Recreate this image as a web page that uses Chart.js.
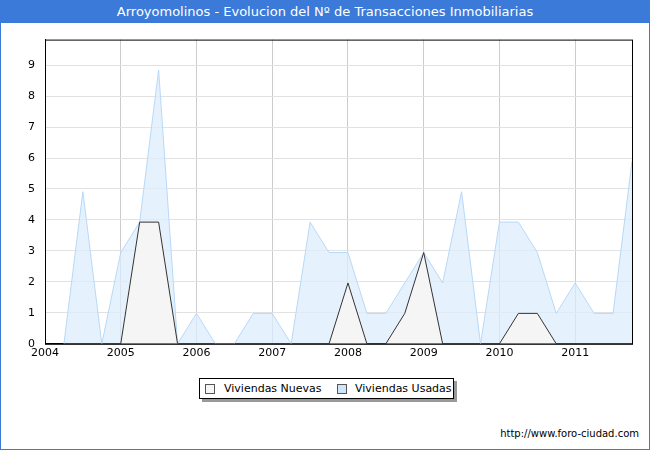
<!DOCTYPE html><html><head><script src="https://cdn.jsdelivr.net/npm/chart.js"></script>
<style>body{margin:0;width:650px;height:450px;background:#fff;font-family:"DejaVu Sans",sans-serif;overflow:hidden}
#wrap{position:absolute;left:0;top:0;width:648px;height:448px;border:1px solid #3b7ad9}
#title{height:22px;background:#3b7ad9;color:#fff;font-size:13px;text-align:center;line-height:22px}
#c{position:absolute;left:0;top:22px}
#url{position:absolute;right:10px;bottom:10px;font-size:10px;color:#000}
#leg{position:absolute;left:198px;top:377px;width:253px;height:19px;border:1px solid #000;box-shadow:3px 3px 0 #999;font-size:11px;background:#fff}
#leg span{position:absolute;top:3px}
#leg i{position:absolute;top:5px;width:8px;height:8px;border:1px solid #555}
</style></head><body><div id="wrap"><div id="title">Arroyomolinos - Evolucion del Nº de Transacciones Inmobiliarias</div>
<canvas id="c" width="648" height="340"></canvas>
<div id="leg"><i style="left:5px;background:#f5f5f5"></i><span style="left:24px">Viviendas Nuevas</span><i style="left:137px;background:#cfe5fb"></i><span style="left:155px">Viviendas Usadas</span></div>
<div id="url">http://www.foro-ciudad.com</div></div>
<script>
const quarters=[];for(let i=1;i<=31;i++)quarters.push(2004+i*0.25);
const usadas=[0,5,0,3,4,9,0,1,0,0,1,1,0,4,3,3,1,1,2,3,2,5,0,4,4,3,1,2,1,1,6];
const nuevas=[null,null,null,0,4,4,0,null,null,null,null,null,null,null,0,2,0,0,1,3,0,null,null,0,1,1,0,null,null,null,null];
const yLabels=['0','1','1','2','2','3','3','4','4','5','5','6','6','6','7','7','8','8','9','9'];
const yearTicks=[2004,2005,2006,2007,2008,2009,2010,2011];
const pts=a=>a.map((v,i)=>({x:quarters[i],y:v}));
new Chart(document.getElementById('c'),{type:'line',data:{datasets:[
{data:pts(nuevas),borderColor:'#333',borderWidth:1,backgroundColor:'#f5f5f5',fill:'origin',pointRadius:0,tension:0,spanGaps:false},
{data:pts(usadas),borderColor:'#b8d8f8',borderWidth:1,backgroundColor:'rgba(220,237,252,0.75)',fill:'origin',pointRadius:0,tension:0}
]},options:{animation:false,responsive:false,layout:{padding:{left:0,right:17,top:13,bottom:0}},
plugins:{legend:{display:false},tooltip:{enabled:false}},
scales:{x:{type:'linear',min:2004,max:2011.75,afterBuildTicks:s=>{s.ticks=yearTicks.map(v=>({value:v}))},
ticks:{color:'#000',font:{size:11,family:'DejaVu Sans'},maxRotation:0,callback:v=>String(v)},grid:{color:'#ccc',drawTicks:false},border:{color:'#000'}},
y:{min:0,max:10,afterBuildTicks:s=>{s.ticks=yLabels.map((l,i)=>({value:i*9.67/19}))},afterFit:s=>{s.width=44},
ticks:{color:'#000',font:{size:11,family:'DejaVu Sans'},padding:10,callback:(v,i)=>yLabels[i]},grid:{color:'#e2e2e2',drawTicks:false},border:{color:'#000'}}}},
plugins:[{id:'frame',afterDraw(c){const a=c.chartArea,x=c.ctx;x.save();x.strokeStyle='#000';x.lineWidth=1;x.strokeRect(a.left+.5,a.top+.5,a.width,a.height);x.restore();}}]});
</script></body></html>
